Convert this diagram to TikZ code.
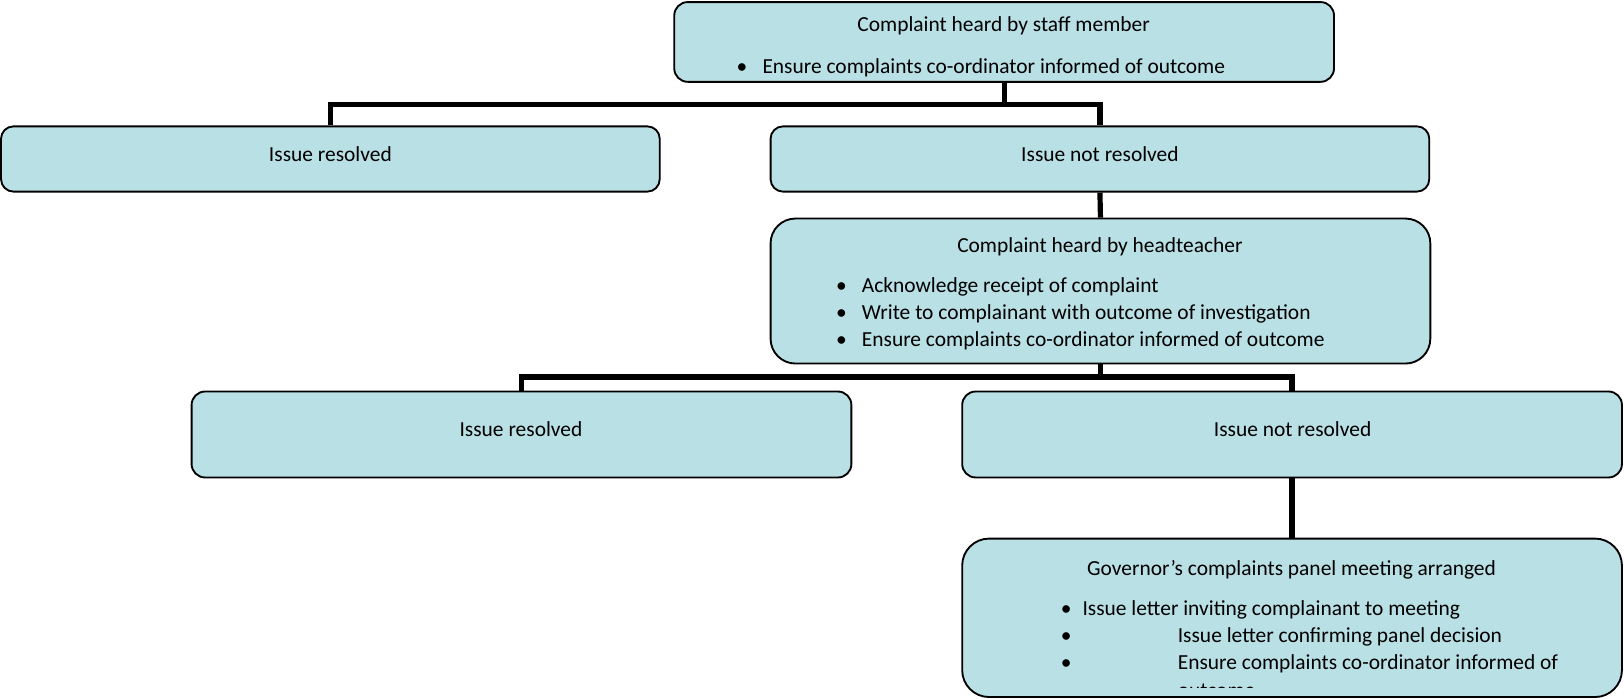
\documentclass[tikz,border=0pt]{standalone}
\usepackage{fontspec}
\setmainfont{Carlito}
\definecolor{boxfill}{HTML}{B9E0E5}
\begin{document}
\begin{tikzpicture}[x=1pt,y=-1pt,
  box/.style={draw=black, line width=1.8pt, fill=boxfill, rectangle, inner sep=0pt},
  conn/.style={draw=black, line width=5pt},
  txt/.style={inner sep=0pt, font=\fontsize{20.7}{26}\selectfont},
  lt/.style={txt, anchor=base west},
  ct/.style={txt, anchor=base}]
\useasboundingbox (0,0) rectangle (1568,675);
% boxes
\node[box, rounded corners=13pt, minimum width=637pt, minimum height=77pt] (A) at (969.5,40.5) {};
\node[box, rounded corners=12pt, minimum width=636pt, minimum height=63pt] (B1) at (319,153.5) {};
\node[box, rounded corners=12pt, minimum width=636pt, minimum height=63pt] (B2) at (1062,153.5) {};
\node[box, rounded corners=24pt, minimum width=637pt, minimum height=140pt] (C) at (1062.5,281) {};
\node[box, rounded corners=13pt, minimum width=637pt, minimum height=83pt] (D1) at (503.5,419.5) {};
\node[box, rounded corners=13pt, minimum width=637pt, minimum height=83pt] (D2) at (1247.5,419.5) {};
\node[box, rounded corners=26pt, minimum width=637pt, minimum height=153pt] (E) at (1247.5,596.5) {};
% connectors
\coordinate (j1) at (969.5,101);
\coordinate (j2) at (1062.5,364);
\draw[conn] (A.south) -- (j1);
\draw[conn] (B1.north) |- (j1) -| (B2.north);
\draw[conn] (B2.south) -- (C.north);
\draw[conn] (C.south) -- (j2);
\draw[conn] (D1.north) |- (j2) -| (D2.north);
\draw[conn] (D2.south) -- (E.north);
% texts A
\node[ct] (tA) at (969,30.5) {Complaint heard by staff member};
\node[lt] (bA) at (711,70.5) {•};
\node[lt] (tA1) at (736,70.5) {Ensure complaints co-ordinator informed of outcome};
% B
\node[ct] (tB1) at (319,155.5) {Issue resolved};
\node[ct] (tB2) at (1062,155.5) {Issue not resolved};
% C
\node[ct] (tC) at (1062,243.5) {Complaint heard by headteacher};
\node[lt] (bC1) at (807,282.5) {•};
\node[lt] (bC2) at (807,308.5) {•};
\node[lt] (bC3) at (807,334.5) {•};
\node[lt] (tC1) at (832,282.5) {Acknowledge receipt of complaint};
\node[lt] (tC2) at (832,308.5) {Write to complainant with outcome of investigation};
\node[lt] (tC3) at (832,334.5) {Ensure complaints co-ordinator informed of outcome};
% D
\node[ct] (tD1) at (503,421.5) {Issue resolved};
\node[ct] (tD2) at (1248,421.5) {Issue not resolved};
% E
\node[ct] (tE) at (1247,555.5) {Governor’s complaints panel meeting arranged};
\node[lt] (bE1) at (1024,594.5) {•};
\node[lt] (bE2) at (1024,620.5) {•};
\node[lt] (bE3) at (1024,646.5) {•};
\node[lt] (tE1) at (1045,594.5) {Issue letter inviting complainant to meeting};
\node[lt] (tE2) at (1137,620.5) {Issue letter confirming panel decision};
\node[lt] (tE3) at (1137,646.5) {Ensure complaints co-ordinator informed of};
\begin{scope}
\clip (940,650) rectangle (1560,664);
\node[lt] (tE4) at (1137,673.5) {outcome};
\end{scope}
\end{tikzpicture}
\end{document}
